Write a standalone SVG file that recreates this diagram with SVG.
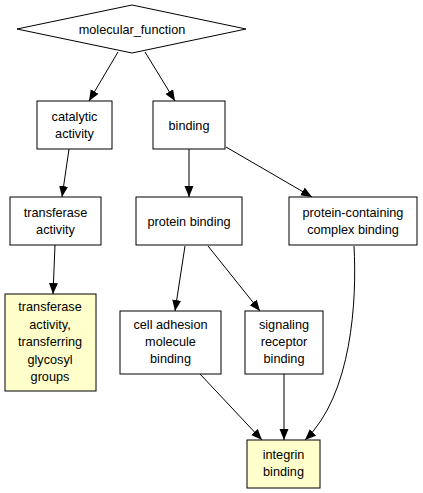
<svg xmlns="http://www.w3.org/2000/svg" width="423" height="493" viewBox="0 0 423 493">
<style>
  .n { fill: #ffffff; stroke: #000000; stroke-width: 1; }
  .hl { fill: #ffffcc; stroke: #000000; stroke-width: 1; }
  .t { font-family: "Liberation Sans", Arial, sans-serif; font-size: 12.7px; fill: #000000; text-anchor: middle; }
  .e { fill: none; stroke: #000000; stroke-width: 1; marker-end: url(#arr); }
</style>
<defs>
  <marker id="arr" markerUnits="userSpaceOnUse" markerWidth="12" markerHeight="10" refX="11" refY="4.5" orient="auto">
    <path d="M0,0 L11,4.5 L0,9 Z" fill="#000000"/>
  </marker>
</defs>
<rect width="423" height="493" fill="#ffffff"/>
<g id="edges">
  <path class="e" d="M118,52 L89,101"/>
  <path class="e" d="M145,52 L175,101"/>
  <path class="e" d="M69,149 L62,197"/>
  <path class="e" d="M189,149 L189,197"/>
  <path class="e" d="M226,147 L312,197"/>
  <path class="e" d="M55,245 L53,294"/>
  <path class="e" d="M185,246 L175,311"/>
  <path class="e" d="M208,246 L260,311"/>
  <path class="e" d="M200,374 L262,440"/>
  <path class="e" d="M284,374 L284,440"/>
  <path class="e" d="M354,246 C357,300 352,395 305,440"/>
</g>
<g id="molecular_function">
  <polygon class="n" points="17,29 132,5 246,29 132,53"/>
  <text class="t" x="132" y="33.5">molecular_function</text>
</g>
<g id="catalytic_activity">
  <rect class="n" x="37" y="101" width="75" height="48"/>
  <text class="t" x="74.5" y="120.5">catalytic</text>
  <text class="t" x="74.5" y="137.5">activity</text>
</g>
<g id="binding">
  <rect class="n" x="153" y="101" width="72" height="48"/>
  <text class="t" x="189" y="129.5">binding</text>
</g>
<g id="transferase_activity">
  <rect class="n" x="10" y="197" width="91" height="48"/>
  <text class="t" x="55.5" y="216.5">transferase</text>
  <text class="t" x="55.5" y="233.5">activity</text>
</g>
<g id="protein_binding">
  <rect class="n" x="136" y="197" width="106" height="48"/>
  <text class="t" x="189" y="225.5">protein binding</text>
</g>
<g id="protein_containing_complex_binding">
  <rect class="n" x="289" y="197" width="128" height="48"/>
  <text class="t" x="353" y="216.5">protein-containing</text>
  <text class="t" x="353" y="233.5">complex binding</text>
</g>
<g id="transferase_glycosyl">
  <rect class="hl" x="5" y="294" width="91" height="97"/>
  <text class="t" x="50" y="311.2">transferase</text>
  <text class="t" x="50" y="328.8">activity,</text>
  <text class="t" x="50" y="346.2">transferring</text>
  <text class="t" x="50" y="363.8">glycosyl</text>
  <text class="t" x="50" y="381.2">groups</text>
</g>
<g id="cell_adhesion_molecule_binding">
  <rect class="n" x="120" y="311" width="101" height="63"/>
  <text class="t" x="170.5" y="329.2">cell adhesion</text>
  <text class="t" x="170.5" y="346.2">molecule</text>
  <text class="t" x="170.5" y="363">binding</text>
</g>
<g id="signaling_receptor_binding">
  <rect class="n" x="245" y="311" width="78" height="63"/>
  <text class="t" x="284" y="329.2">signaling</text>
  <text class="t" x="284" y="346.2">receptor</text>
  <text class="t" x="284" y="363">binding</text>
</g>
<g id="integrin_binding">
  <rect class="hl" x="247" y="440" width="73" height="48"/>
  <text class="t" x="283.5" y="459">integrin</text>
  <text class="t" x="283.5" y="476">binding</text>
</g>
</svg>
